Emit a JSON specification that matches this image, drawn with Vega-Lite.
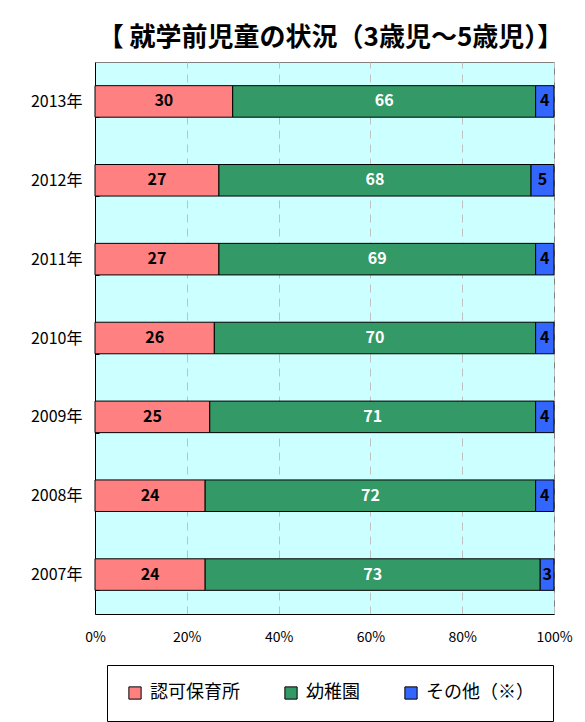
{
  "$schema": "https://vega.github.io/schema/vega-lite/v6.json",
  "autosize": "none",
  "width": 459,
  "height": 552,
  "padding": {"left": 95, "top": 62, "right": 31, "bottom": 108},
  "background": "white",
  "title": {
    "text": "【 就学前児童の状況（3歳児～5歳児）】",
    "font": "Noto Sans CJK JP",
    "fontSize": 26,
    "fontWeight": "bold",
    "color": "black",
    "anchor": "middle",
    "offset": 3,
    "dx": 6
  },
  "data": {
    "values": [
      {"year": "2013年", "type": "認可保育所", "order": 1, "value": 30},
      {"year": "2013年", "type": "幼稚園", "order": 2, "value": 66},
      {"year": "2013年", "type": "その他（※）", "order": 3, "value": 4},
      {"year": "2012年", "type": "認可保育所", "order": 1, "value": 27},
      {"year": "2012年", "type": "幼稚園", "order": 2, "value": 68},
      {"year": "2012年", "type": "その他（※）", "order": 3, "value": 5},
      {"year": "2011年", "type": "認可保育所", "order": 1, "value": 27},
      {"year": "2011年", "type": "幼稚園", "order": 2, "value": 69},
      {"year": "2011年", "type": "その他（※）", "order": 3, "value": 4},
      {"year": "2010年", "type": "認可保育所", "order": 1, "value": 26},
      {"year": "2010年", "type": "幼稚園", "order": 2, "value": 70},
      {"year": "2010年", "type": "その他（※）", "order": 3, "value": 4},
      {"year": "2009年", "type": "認可保育所", "order": 1, "value": 25},
      {"year": "2009年", "type": "幼稚園", "order": 2, "value": 71},
      {"year": "2009年", "type": "その他（※）", "order": 3, "value": 4},
      {"year": "2008年", "type": "認可保育所", "order": 1, "value": 24},
      {"year": "2008年", "type": "幼稚園", "order": 2, "value": 72},
      {"year": "2008年", "type": "その他（※）", "order": 3, "value": 4},
      {"year": "2007年", "type": "認可保育所", "order": 1, "value": 24},
      {"year": "2007年", "type": "幼稚園", "order": 2, "value": 73},
      {"year": "2007年", "type": "その他（※）", "order": 3, "value": 3}
    ]
  },
  "encoding": {
    "y": {
      "field": "year",
      "type": "nominal",
      "sort": "descending",
      "scale": {"paddingInner": 0.6, "paddingOuter": 0.3},
      "axis": {
        "title": null,
        "tickBand": "extent",
        "tickSize": -4,
        "tickColor": "black",
        "domainColor": "black",
        "labelPadding": 17,
        "labelFont": "Noto Sans CJK JP",
        "labelFontSize": 16,
        "labelColor": "black",
        "grid": false
      }
    },
    "x": {
      "field": "value",
      "type": "quantitative",
      "stack": "zero",
      "scale": {"domain": [0, 100]},
      "axis": {
        "title": null,
        "values": [0, 20, 40, 60, 80, 100],
        "labelExpr": "datum.label + '%'",
        "grid": true,
        "gridDash": [8, 6],
        "gridColor": "#c0c0c0",
        "ticks": false,
        "domainColor": "black",
        "labelPadding": 16,
        "labelFont": "Noto Sans CJK JP",
        "labelFontSize": 14,
        "labelColor": "black",
        "labelFlush": false
      }
    },
    "order": {"field": "order", "type": "quantitative"}
  },
  "layer": [
    {
      "mark": {"type": "bar", "stroke": "black", "strokeWidth": 1},
      "encoding": {
        "color": {
          "field": "type",
          "type": "nominal",
          "sort": ["認可保育所", "幼稚園", "その他（※）"],
          "scale": {
            "domain": ["認可保育所", "幼稚園", "その他（※）"],
            "range": ["#ff8080", "#339966", "#3366ff"]
          },
          "legend": {
            "title": null,
            "orient": "none",
            "legendX": 12,
            "legendY": 603,
            "direction": "horizontal",
            "strokeColor": "black",
            "fillColor": "white",
            "padding": 19,
            "columnPadding": 42,
            "symbolType": "square",
            "symbolSize": 150,
            "symbolStrokeColor": "black",
            "symbolStrokeWidth": 1,
            "labelFont": "Noto Sans CJK JP",
            "labelFontSize": 18,
            "labelColor": "black",
            "labelOffset": 6
          }
        }
      }
    },
    {
      "mark": {"type": "text", "font": "Noto Sans CJK JP", "fontWeight": "bold", "fontSize": 16},
      "encoding": {
        "x": {"field": "value", "type": "quantitative", "stack": "zero", "bandPosition": 0.5},
        "text": {"field": "value", "type": "quantitative"},
        "color": {
          "condition": {"test": "datum.type === '幼稚園'", "value": "white"},
          "value": "black"
        }
      }
    }
  ],
  "config": {
    "view": {"stroke": "#808080", "fill": "#ccffff"}
  }
}
